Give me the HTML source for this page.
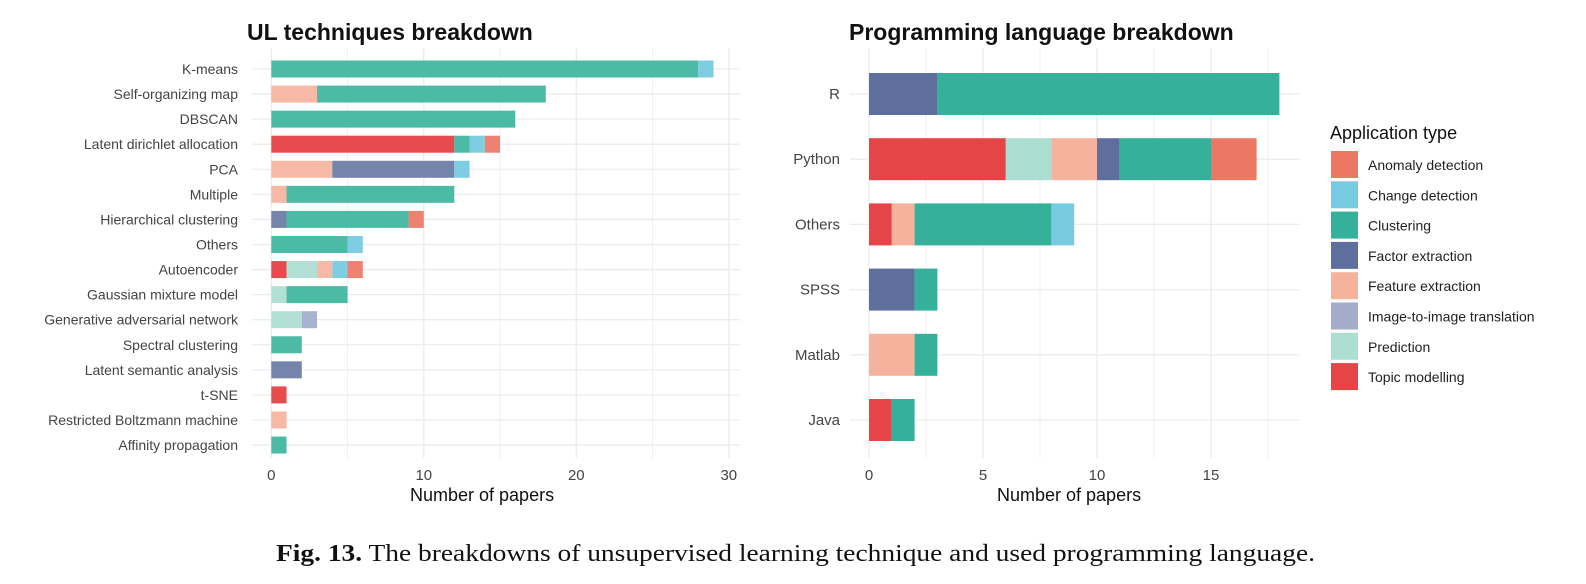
<!DOCTYPE html>
<html><head><meta charset="utf-8"><style>
body{margin:0;background:#fff;width:1586px;height:584px;overflow:hidden;font-family:"Liberation Sans",sans-serif}
svg{position:absolute;left:0;top:0}
</style></head><body>
<svg id="chart" width="1586" height="584" xmlns="http://www.w3.org/2000/svg">
<text x="247" y="40" font-size="23" font-weight="bold" fill="#111">UL techniques breakdown</text>
<text x="849" y="40" font-size="23" font-weight="bold" fill="#111">Programming language breakdown</text>
<text x="410" y="501" font-size="18" fill="#111">Number of papers</text>
<text x="997" y="501" font-size="18" fill="#111">Number of papers</text>
<text x="276" y="561" font-size="24" font-family="Liberation Serif, serif" fill="#111" textLength="1039" lengthAdjust="spacingAndGlyphs"><tspan font-weight="bold">Fig. 13.</tspan>  The breakdowns of unsupervised learning technique and used programming language.</text>
<text x="1330" y="139" font-size="18" fill="#111">Application type</text>
<g id="left"></g><g id="right"></g><g id="legend"></g>
</svg>
<script>
const types=["Anomaly detection","Change detection","Clustering","Factor extraction","Feature extraction","Image-to-image translation","Prediction","Topic modelling"];
const colorsL={"Anomaly detection":"#ef8170","Change detection":"#7fcde2","Clustering":"#4bbba6","Factor extraction":"#7584aa","Feature extraction":"#f6b9a6","Image-to-image translation":"#a9b3cf","Prediction":"#b2e0d4","Topic modelling":"#e84b4e"};
const colorsR={"Anomaly detection":"#ec7762","Change detection":"#76cbe0","Clustering":"#35b09b","Factor extraction":"#5f6f9d","Feature extraction":"#f5b39e","Image-to-image translation":"#a3adcb","Prediction":"#acdfd1","Topic modelling":"#e64547"};
const ulCategories=["K-means","Self-organizing map","DBSCAN","Latent dirichlet allocation","PCA","Multiple","Hierarchical clustering","Others","Autoencoder","Gaussian mixture model","Generative adversarial network","Spectral clustering","Latent semantic analysis","t-SNE","Restricted Boltzmann machine","Affinity propagation"];
const ulTypes=[["Clustering","Change detection"],["Feature extraction","Clustering"],["Clustering"],["Topic modelling","Clustering","Change detection","Anomaly detection"],["Feature extraction","Factor extraction","Change detection"],["Feature extraction","Clustering"],["Factor extraction","Clustering","Anomaly detection"],["Clustering","Change detection"],["Topic modelling","Prediction","Feature extraction","Change detection","Anomaly detection"],["Prediction","Clustering"],["Prediction","Image-to-image translation"],["Clustering"],["Factor extraction"],["Topic modelling"],["Feature extraction"],["Clustering"]];
const ulValues=[[28,1],[3,15],[16],[12,1,1,1],[4,8,1],[1,11],[1,8,1],[5,1],[1,2,1,1,1],[1,4],[2,1],[2],[2],[1],[1],[1]];
const ulTicks=[0,10,20,30];
const plCategories=["R","Python","Others","SPSS","Matlab","Java"];
const plTypes=[["Factor extraction","Clustering"],["Topic modelling","Prediction","Feature extraction","Factor extraction","Clustering","Anomaly detection"],["Topic modelling","Feature extraction","Clustering","Change detection"],["Factor extraction","Clustering"],["Feature extraction","Clustering"],["Topic modelling","Clustering"]];
const plValues=[[3,15],[6,2,2,1,4,2],[1,1,6,1],[2,1],[2,1],[1,1]];
const plTicks=[0,5,10,15];
const NS="http://www.w3.org/2000/svg";
function mk(tag,attrs,parent){const e=document.createElementNS(NS,tag);for(const k in attrs)e.setAttribute(k,attrs[k]);parent.appendChild(e);return e;}
function draw(g,o){
  const x=v=>o.x0+v*o.ppu;
  const y=i=>o.y0+i*o.step;
  for(let v=0;v<=o.max;v+=o.tickStep/2){const l=mk("line",{x1:x(v),x2:x(v),y1:o.top,y2:o.bottom,stroke:"#ececec","stroke-width":(v%o.tickStep===0)?1.3:0.8},g);
    
    }
  o.cats.forEach((c,i)=>{const l=mk("line",{x1:o.gx0,x2:o.gx1,y1:y(i),y2:y(i),stroke:"#ececec","stroke-width":1.3},g);
    
    
    const t=mk("text",{x:o.labelX,y:y(i)+5,"text-anchor":"end","font-size":o.lfs,fill:"#444"},g);t.textContent=c;
    
    
    let acc=0;
    o.vals[i].forEach((v,j)=>{const r=mk("rect",{x:x(acc),y:y(i)-o.bh/2,width:x(acc+v)-x(acc),height:o.bh,fill:o.colors[o.types[i][j]]},g);
      
      
      acc+=v;});
  });
  o.ticks.forEach(v=>{const t=mk("text",{x:x(v),y:o.tickY,"text-anchor":"middle","font-size":15,fill:"#444"},g);t.textContent=v;
    
    });
}
draw(document.getElementById("left"),{x0:271.3,ppu:15.25,y0:69,step:25.07,bh:17,max:30,tickStep:10,top:48,bottom:458,gx0:252,gx1:740,labelX:238,lfs:14,cats:ulCategories,vals:ulValues,types:ulTypes,colors:colorsL,ticks:ulTicks,tickY:480});
draw(document.getElementById("right"),{x0:869,ppu:22.8,y0:94,step:65.2,bh:42,max:18,tickStep:5,top:48,bottom:458,gx0:850,gx1:1300,labelX:840,lfs:15,cats:plCategories,vals:plValues,types:plTypes,colors:colorsR,ticks:plTicks,tickY:480});
const lg=document.getElementById("legend");
types.forEach((t,i)=>{const yy=151+i*30.3;
  const r=mk("rect",{x:1331,y:yy,width:27,height:27,fill:colorsR[t]},lg);
  
  
  const tx=mk("text",{x:1368,y:yy+19,"font-size":14,fill:"#222"},lg);tx.textContent=t;
  
  });
</script>
</body></html>
